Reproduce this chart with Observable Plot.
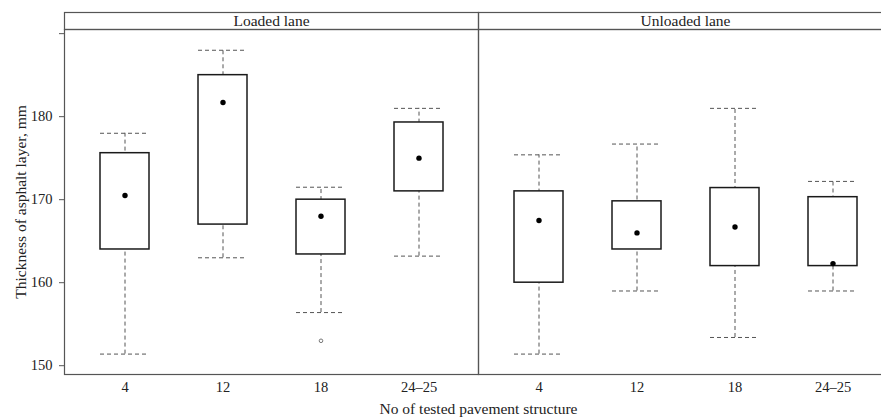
<!DOCTYPE html>
<html>
<head>
<meta charset="utf-8">
<script src="https://cdn.jsdelivr.net/npm/d3@7"></script>
<script src="https://cdn.jsdelivr.net/npm/@observablehq/plot@0.6"></script>
<style>
  html, body { margin: 0; padding: 0; background: #fff; overflow: hidden; width: 881px; height: 417px; }
  #chart { width: 881px; height: 417px; overflow: hidden; position: relative; }
  #chart svg { display: block; position: absolute; left: 0; top: 0; max-width: none !important; }
</style>
</head>
<body>
<div id="chart"></div>
<script>
// Lanes (facets) and tested pavement structures (x categories)
const lanes = ["Loaded lane", "Unloaded lane"];
const structures = ["4", "12", "18", "24–25"];

// Box-plot summaries, one row per lane, one value per structure
const whiskerLow  = [[151.4, 163.0, 156.4, 163.2], [151.4, 159.0, 153.4, 159.0]];
const boxLow      = [[164.0, 167.0, 163.4, 171.0], [160.0, 164.0, 162.0, 162.0]];
const centre      = [[170.5, 181.7, 168.0, 175.0], [167.5, 166.0, 166.7, 162.3]];
const boxHigh     = [[175.6, 185.0, 170.0, 179.3], [171.0, 169.8, 171.4, 170.3]];
const whiskerHigh = [[178.0, 188.0, 171.5, 181.0], [175.4, 176.7, 181.0, 172.2]];

// Single outlying measurement
const outlierLane = ["Loaded lane"];
const outlierStructure = ["18"];
const outlierValue = [153.0];

const yTicks = [150, 160, 170, 180, 190];

const rows = [];
lanes.forEach((lane, i) => structures.forEach((s, j) => rows.push({
  lane, structure: s,
  low: whiskerLow[i][j], q1: boxLow[i][j], mid: centre[i][j],
  q3: boxHigh[i][j], high: whiskerHigh[i][j]
})));
const outliers = outlierValue.map((v, k) => ({lane: outlierLane[k], structure: outlierStructure[k], value: v}));

const dash = {stroke: "#555", strokeWidth: 1, strokeDasharray: "4,3"};

const plot = Plot.plot({
  width: 893,
  height: 417,
  marginTop: 29,
  marginBottom: 43,
  marginLeft: 64,
  marginRight: 1,
  style: {fontFamily: "'Liberation Serif', serif", fontSize: "14.5px", color: "#222", background: "#fff", maxWidth: "none"},
  fx: {domain: lanes, padding: 0},
  x: {domain: structures, paddingInner: 0.5, paddingOuter: 0.35},
  y: {domain: [148.94, 190.5]},
  marks: [
    // whiskers and caps
    Plot.ruleX(rows, {fx: "lane", x: "structure", y1: "low", y2: "high", ...dash}),
    Plot.tickY(rows, {fx: "lane", x: "structure", y: "low", ...dash}),
    Plot.tickY(rows, {fx: "lane", x: "structure", y: "high", ...dash}),
    // boxes
    Plot.barY(rows, {fx: "lane", x: "structure", y1: "q1", y2: "q3", fill: "white", stroke: "#1a1a1a", strokeWidth: 1.5}),
    // centre points
    Plot.dot(rows, {fx: "lane", x: "structure", y: "mid", r: 2.7, fill: "black"}),
    // outliers
    Plot.dot(outliers, {fx: "lane", x: "structure", y: "value", r: 1.8, fill: "white", stroke: "#777", strokeWidth: 1}),
    // panel borders and strip boxes
    Plot.frame({stroke: "#555", strokeWidth: 1.2}),
    Plot.frame({stroke: "#555", strokeWidth: 1.2, insetTop: -17, insetBottom: 345}),
    Plot.text(lanes, {fx: d => d, text: d => d, frameAnchor: "top", lineAnchor: "middle", dy: -8.5, fontSize: 15.5, fill: "#222"}),
    // axes
    Plot.axisY({ticks: yTicks, tickFormat: d => (d === 190 ? "" : d), tickSize: 5, tickPadding: 7,
      label: "Thickness of asphalt layer, mm", labelAnchor: "center", labelArrow: false, labelOffset: 50,
      stroke: "#555"}),
    Plot.axisX({tickSize: 0, tickPadding: 7, label: null}),
    Plot.axisFx({anchor: "bottom", tickSize: 0, tickFormat: () => "", label: "No of tested pavement structure",
      labelAnchor: "center", labelArrow: false, labelOffset: 39})
  ]
});

// slightly larger type for the axis titles
d3.select(plot).selectAll("g[aria-label$='axis label'] text").style("font-size", "15.5px");

document.getElementById("chart").appendChild(plot);
</script>
</body>
</html>
